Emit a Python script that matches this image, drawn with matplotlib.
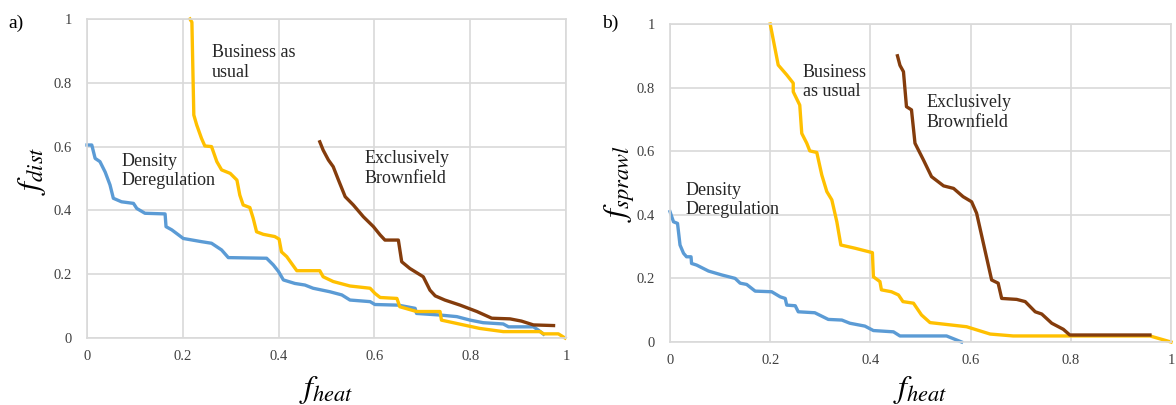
import matplotlib
matplotlib.use("Agg")
import matplotlib.pyplot as plt

# ---------------- data ----------------
# Panel a: f_dist vs f_heat
a_dd_x = [0, 0.01, 0.017, 0.027, 0.038, 0.048, 0.055, 0.072, 0.097, 0.104, 0.121, 0.163, 0.165, 0.177,
          0.201, 0.239, 0.26, 0.281, 0.295, 0.375, 0.389, 0.4, 0.41, 0.434, 0.455, 0.472, 0.507, 0.532,
          0.549, 0.591, 0.601, 0.65, 0.685, 0.688, 0.737, 0.772, 0.8, 0.827, 0.869, 0.88, 0.932, 0.942, 0.953]
a_dd_y = [0.605, 0.605, 0.563, 0.553, 0.52, 0.48, 0.438, 0.427, 0.422, 0.406, 0.391, 0.389, 0.349, 0.339,
          0.312, 0.302, 0.297, 0.276, 0.252, 0.25, 0.229, 0.208, 0.182, 0.171, 0.166, 0.156, 0.145, 0.135,
          0.119, 0.114, 0.105, 0.103, 0.093, 0.077, 0.072, 0.067, 0.056, 0.048, 0.044, 0.035, 0.035, 0.025, 0.012]

a_bau_x = [0.215, 0.219, 0.223, 0.229, 0.239, 0.246, 0.26, 0.271, 0.281, 0.299, 0.313, 0.319, 0.326, 0.34,
           0.347, 0.354, 0.368, 0.392, 0.401, 0.406, 0.417, 0.427, 0.438, 0.486, 0.493, 0.514, 0.549, 0.591,
           0.601, 0.612, 0.647, 0.653, 0.688, 0.737, 0.74, 0.786, 0.82, 0.869, 0.946, 0.953, 0.984, 0.998]
a_bau_y = [1.0, 0.99, 0.699, 0.668, 0.626, 0.602, 0.6, 0.553, 0.527, 0.516, 0.495, 0.448, 0.417, 0.409,
           0.375, 0.333, 0.325, 0.318, 0.31, 0.27, 0.255, 0.234, 0.211, 0.211, 0.192, 0.177, 0.163, 0.156,
           0.14, 0.127, 0.124, 0.098, 0.083, 0.083, 0.056, 0.041, 0.03, 0.02, 0.02, 0.013, 0.013, 0.0]

a_eb_x = [0.486, 0.493, 0.504, 0.514, 0.525, 0.539, 0.556, 0.577, 0.598, 0.612, 0.622, 0.65, 0.657, 0.674,
          0.702, 0.716, 0.727, 0.747, 0.779, 0.814, 0.845, 0.883, 0.907, 0.932, 0.974]
a_eb_y = [0.615, 0.589, 0.558, 0.537, 0.495, 0.443, 0.417, 0.38, 0.349, 0.323, 0.307, 0.307, 0.239, 0.218,
          0.192, 0.15, 0.132, 0.119, 0.103, 0.083, 0.062, 0.06, 0.053, 0.041, 0.039]

# Panel b: f_sprawl vs f_heat
b_dd_x = [0, 0.007, 0.015, 0.02, 0.027, 0.033, 0.042, 0.043, 0.053, 0.077, 0.103, 0.13, 0.14, 0.153, 0.17,
          0.203, 0.22, 0.23, 0.233, 0.25, 0.256, 0.289, 0.316, 0.343, 0.359, 0.389, 0.406, 0.446, 0.459,
          0.552, 0.582]
b_dd_y = [0.41, 0.378, 0.373, 0.305, 0.279, 0.268, 0.268, 0.247, 0.242, 0.223, 0.211, 0.2, 0.185, 0.181, 0.16,
          0.158, 0.142, 0.137, 0.116, 0.114, 0.095, 0.092, 0.071, 0.069, 0.059, 0.05, 0.036, 0.032, 0.019,
          0.019, 0.0]

b_bau_x = [0.2, 0.216, 0.233, 0.246, 0.246, 0.259, 0.263, 0.273, 0.279, 0.293, 0.303, 0.313, 0.323, 0.333,
           0.341, 0.369, 0.404, 0.406, 0.419, 0.422, 0.442, 0.456, 0.465, 0.486, 0.502, 0.519, 0.592, 0.639,
           0.685, 0.958, 1.0]
b_bau_y = [1.0, 0.871, 0.84, 0.814, 0.787, 0.745, 0.656, 0.625, 0.601, 0.596, 0.525, 0.473, 0.447, 0.378,
           0.305, 0.295, 0.281, 0.205, 0.19, 0.164, 0.158, 0.148, 0.127, 0.122, 0.085, 0.061, 0.048, 0.025,
           0.019, 0.019, 0.0]

b_eb_x = [0.454, 0.459, 0.466, 0.472, 0.482, 0.489, 0.506, 0.522, 0.546, 0.566, 0.585, 0.602, 0.612, 0.642,
          0.655, 0.662, 0.692, 0.709, 0.729, 0.742, 0.762, 0.785, 0.798, 0.958]
b_eb_y = [0.9, 0.87, 0.85, 0.74, 0.73, 0.625, 0.572, 0.52, 0.491, 0.483, 0.457, 0.441, 0.405, 0.195,
          0.185, 0.137, 0.134, 0.127, 0.095, 0.088, 0.059, 0.04, 0.022, 0.022]

ticks = [0, 0.2, 0.4, 0.6, 0.8, 1]
tick_labels = ["0", "0.2", "0.4", "0.6", "0.8", "1"]
series_names = ["Density\nDeregulation", "Business as\nusual", "Exclusively\nBrownfield"]
b_series_names = ["Density\nDeregulation", "Business\nas usual", "Exclusively\nBrownfield"]

# ---------------- style ----------------
plt.rcParams["mathtext.fontset"] = "stix"
SERIF = "Liberation Serif"
C_BLUE = "#5B9BD5"
C_YEL = "#FFC000"
C_BRN = "#843C0C"
GRID = "#D9D9D9"
TXT = "#262626"

fig = plt.figure(figsize=(11.76, 4.05), dpi=100)
ax_a = fig.add_axes([87 / 1176, 1 - 338 / 405, 479 / 1176, 319 / 405])
ax_b = fig.add_axes([670 / 1176, 1 - 342 / 405, 501 / 1176, 318 / 405])


def style(ax):
    ax.set_xlim(0, 1)
    ax.set_ylim(0, 1)
    ax.set_xticks(ticks)
    ax.set_yticks(ticks)
    ax.set_xticklabels(tick_labels, fontfamily=SERIF, fontsize=10.5, color="#404040")
    ax.set_yticklabels(tick_labels, fontfamily=SERIF, fontsize=10.5, color="#404040")
    ax.tick_params(length=0, pad=9)
    ax.tick_params(axis="y", pad=11)
    ax.grid(True, color=GRID, lw=1.2)
    ax.set_axisbelow(True)
    for s in ax.spines.values():
        s.set_color(GRID)
        s.set_linewidth(1.2)


for ax in (ax_a, ax_b):
    style(ax)

lw = 2.4
ax_a.plot(a_dd_x, a_dd_y, color=C_BLUE, lw=lw, clip_on=False, solid_joinstyle="round")
ax_a.plot(a_bau_x, a_bau_y, color=C_YEL, lw=lw, clip_on=False, solid_joinstyle="round")
ax_a.plot(a_eb_x, a_eb_y, color=C_BRN, lw=lw, clip_on=False, solid_joinstyle="round")

ax_b.plot(b_dd_x, b_dd_y, color=C_BLUE, lw=lw, clip_on=False, solid_joinstyle="round")
ax_b.plot(b_bau_x, b_bau_y, color=C_YEL, lw=lw, clip_on=False, solid_joinstyle="round")
ax_b.plot(b_eb_x, b_eb_y, color=C_BRN, lw=lw, clip_on=False, solid_joinstyle="round")

ann_kw = dict(fontfamily=SERIF, fontsize=13, color=TXT, ha="left", va="center", linespacing=1.2)
ax_a.text(0.073, 0.524, series_names[0], **ann_kw)
ax_a.text(0.261, 0.864, series_names[1], **ann_kw)
ax_a.text(0.58, 0.531, series_names[2], **ann_kw)

ax_b.text(0.03, 0.447, b_series_names[0], **ann_kw)
ax_b.text(0.265, 0.818, b_series_names[1], **ann_kw)
ax_b.text(0.513, 0.722, b_series_names[2], **ann_kw)

# axis labels
lab_kw = dict(fontsize=23, color="black", ha="center", va="center")
ax_a.text(-0.115, 0.524, r"$f_{dist}$", rotation=90, transform=ax_a.transAxes, **lab_kw)
ax_a.text(0.5, -0.163, r"$f_{heat}$", transform=ax_a.transAxes, **lab_kw)
ax_b.text(-0.1, 0.497, r"$f_{sprawl}$", rotation=90, transform=ax_b.transAxes, **lab_kw)
ax_b.text(0.5, -0.151, r"$f_{heat}$", transform=ax_b.transAxes, **lab_kw)

# panel letters
fig.text(8 / 1176, 1 - 23 / 405, "a)", fontfamily=SERIF, fontsize=14, color="black", ha="left", va="center")
fig.text(602 / 1176, 1 - 23 / 405, "b)", fontfamily=SERIF, fontsize=14, color="black", ha="left", va="center")

fig.savefig("out.png", dpi=100, facecolor="white")
